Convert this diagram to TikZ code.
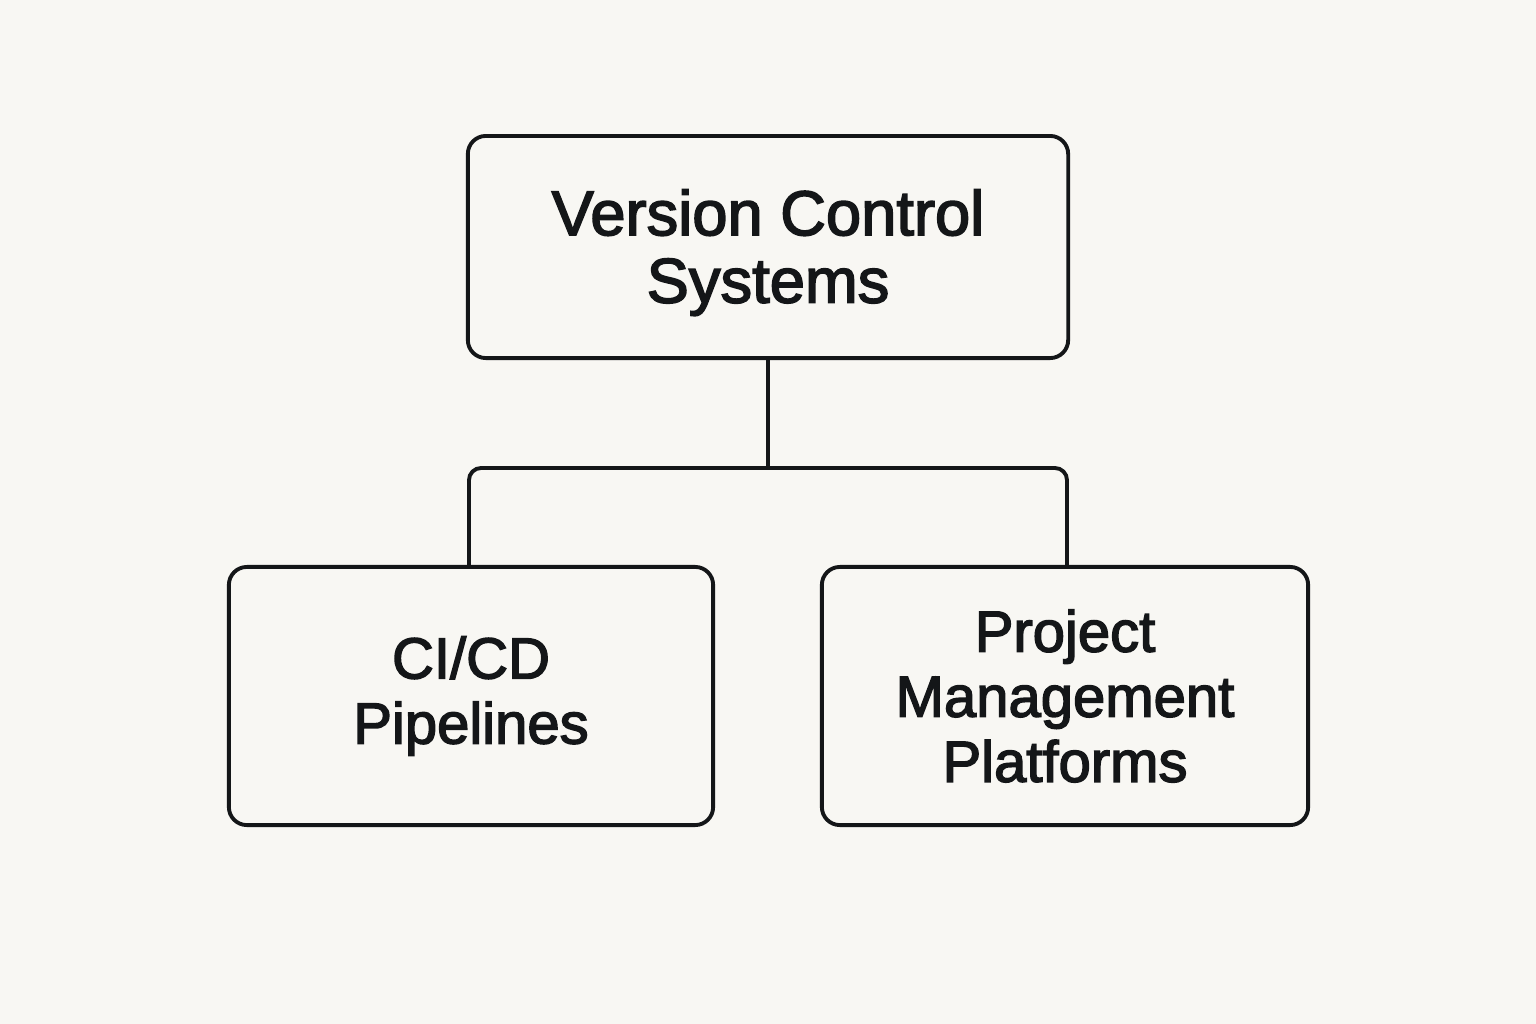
\documentclass[tikz,border=0pt]{standalone}
\usepackage{fontspec}
\setmainfont{Liberation Sans}
\newfontfamily\labfont{Liberation Sans}[FakeBold=2.5]
\definecolor{bg}{HTML}{F8F7F3}
\definecolor{ink}{HTML}{141618}
\begin{document}
\begin{tikzpicture}[x=0.01cm,y=-0.01cm,
  box/.style={draw=ink,line width=1.1pt,rounded corners=0.18cm,align=center,inner sep=0pt,text=ink},
  link/.style={draw=ink,line width=1.1pt,rounded corners=0.12cm}]
\fill[bg] (0,0) rectangle (1536,1024);
\useasboundingbox (0,0) rectangle (1536,1024);
\node[box,minimum width=6cm,minimum height=2.22cm,text depth=0.02cm,font=\labfont\fontsize{18}{19.2}\selectfont] (vcs) at (768,247) {Version Control\\Systems};
\node[box,minimum width=4.84cm,minimum height=2.58cm,font=\labfont\fontsize{16.5}{18.5}\selectfont] (ci) at (471,696) {CI/CD\\Pipelines};
\node[box,minimum width=4.86cm,minimum height=2.58cm,font=\labfont\fontsize{16.5}{18.5}\selectfont] (pm) at (1065,696) {Project\\Management\\Platforms};
\coordinate (j) at (768,468);
\draw[link] (vcs.south) -- (j);
\draw[link] (ci.north -| 469,0) -- (469,468) -- (1067,468) -- (pm.north -| 1067,0);
\end{tikzpicture}
\end{document}
